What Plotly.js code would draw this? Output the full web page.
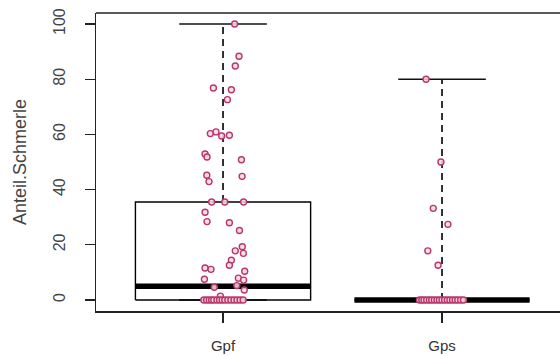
<!DOCTYPE html>
<html>
<head>
<meta charset="utf-8">
<script src="https://cdn.plot.ly/plotly-3.0.1.min.js"></script>
<style>html,body{margin:0;padding:0;background:#fff;}#chart{width:560px;height:356px;}</style>
</head>
<body>
<div id="chart"></div>
<script>
// Categories and box statistics
const groups = ['Gpf', 'Gps'];
const q1 = [0, 0];
const median = [5, 0];
const q3 = [35.5, 0];
const lowerWhisker = [0, 0];
const upperWhisker = [100, 80];

const gpfX = [1.053, 1.073, 1.056, 0.956, 1.038, 1.020, 0.942, 0.968, 0.994, 1.029,
              0.918, 0.927, 1.084, 0.926, 0.936, 1.087, 0.948, 1.008, 1.094, 0.918,
              0.927, 1.029, 1.075, 1.088, 1.056, 1.093, 1.038, 1.029, 0.918, 0.945,
              1.099, 0.915, 1.070, 1.094, 0.960, 1.063, 1.097, 0.988,
              0.912, 0.925, 0.937, 0.948, 0.958, 0.972, 0.984, 0.996, 1.008, 1.022,
              1.036, 1.050, 1.064, 1.078, 1.092];
const gpfY = [100, 88.3, 84.8, 76.8, 76.2, 72.6, 60.3, 60.9, 59.4, 59.7,
              52.9, 51.8, 50.8, 45.2, 42.9, 44.8, 35.5, 35.5, 35.5, 31.8,
              28.4, 28.0, 25.2, 19.3, 17.8, 16.9, 14.4, 12.6, 11.6, 11.1,
              10.4, 7.5, 7.9, 7.2, 4.6, 5.2, 3.6, 1.4,
              0, 0, 0, 0, 0, 0, 0, 0, 0, 0,
              0, 0, 0, 0, 0];
const gpsX = [1.927, 1.995, 1.960, 2.027, 1.935, 1.982,
              1.897, 1.908, 1.918, 1.930, 1.942, 1.953, 1.965, 1.977, 1.988,
              2.000, 2.012, 2.024, 2.036, 2.048, 2.060, 2.072, 2.085, 2.098];
const gpsY = [80, 50, 33.2, 27.4, 17.8, 12.6,
              0, 0, 0, 0, 0, 0, 0, 0, 0,
              0, 0, 0, 0, 0, 0, 0, 0, 0];

const yTicks = [0, 20, 40, 60, 80, 100];

const boxHalf = 0.4, capHalf = 0.2;
const traces = [];
groups.forEach((g, k) => {
  const c = k + 1;
  traces.push({type: 'scatter', mode: 'lines', x: [c, c], y: [q3[k], upperWhisker[k]],
    line: {color: '#000', width: 1.6, dash: '7px,5px'}, hoverinfo: 'skip', showlegend: false});
  traces.push({type: 'scatter', mode: 'lines', x: [c, c], y: [q1[k], lowerWhisker[k]],
    line: {color: '#000', width: 1.6, dash: '7px,5px'}, hoverinfo: 'skip', showlegend: false});
  traces.push({type: 'scatter', mode: 'lines', x: [c - capHalf, c + capHalf], y: [upperWhisker[k], upperWhisker[k]],
    line: {color: '#111', width: 1.6}, hoverinfo: 'skip', showlegend: false});
  traces.push({type: 'scatter', mode: 'lines', x: [c - capHalf, c + capHalf], y: [lowerWhisker[k], lowerWhisker[k]],
    line: {color: '#111', width: 1.6}, hoverinfo: 'skip', showlegend: false});
  traces.push({type: 'scatter', mode: 'lines',
    x: [c - boxHalf, c + boxHalf, c + boxHalf, c - boxHalf, c - boxHalf],
    y: [q1[k], q1[k], q3[k], q3[k], q1[k]],
    line: {color: '#000', width: 1.4}, hoverinfo: 'skip', showlegend: false});
  traces.push({type: 'scatter', mode: 'lines', x: [c - boxHalf, c + boxHalf], y: [median[k], median[k]],
    line: {color: '#000', width: 5.5}, hoverinfo: 'skip', showlegend: false});
});

const markerStyle = {symbol: 'circle', size: 6, color: 'rgba(248,215,228,0.85)',
  line: {color: '#b8386c', width: 1.4}};
traces.push({type: 'scatter', mode: 'markers', x: gpfX, y: gpfY, marker: markerStyle, showlegend: false});
traces.push({type: 'scatter', mode: 'markers', x: gpsX, y: gpsY, marker: markerStyle, showlegend: false});

const font = {family: 'Liberation Sans, Arial, sans-serif', color: '#333'};
const layout = {
  width: 560, height: 356,
  margin: {l: 96, r: 0, t: 13, b: 45, pad: 0},
  paper_bgcolor: '#fff', plot_bgcolor: '#fff',
  font: font,
  showlegend: false,
  xaxis: {
    range: [0.42, 0.42 + 464 / 219],
    tickmode: 'array', tickvals: [1, 2], ticktext: groups,
    ticks: 'outside', ticklen: 10, tickwidth: 1.3, tickcolor: '#222',
    showline: true, linecolor: '#222', linewidth: 1.5,
    showgrid: false, zeroline: false,
    tickfont: {family: font.family, size: 15, color: '#333'},
    ticklabelstandoff: 10
  },
  yaxis: {
    range: [-4, 104],
    tickmode: 'array', tickvals: yTicks, ticktext: yTicks.map(String),
    ticks: 'outside', ticklen: 10, tickwidth: 1.3, tickcolor: '#222',
    tickangle: -90,
    showline: true, linecolor: '#222', linewidth: 1.5,
    showgrid: false, zeroline: false,
    tickfont: {family: font.family, size: 16, color: '#444'},
    ticklabelstandoff: 13,
    title: {text: 'Anteil.Schmerle', font: {family: font.family, size: 18, color: '#444'}, standoff: 20},
    automargin: false
  },
  shapes: [
    {type: 'line', xref: 'paper', yref: 'paper', x0: 0, x1: 1, y0: 1, y1: 1,
     line: {color: '#222', width: 1.5}}
  ]
};

Plotly.newPlot('chart', traces, layout, {staticPlot: true, displayModeBar: false});
</script>
</body>
</html>
